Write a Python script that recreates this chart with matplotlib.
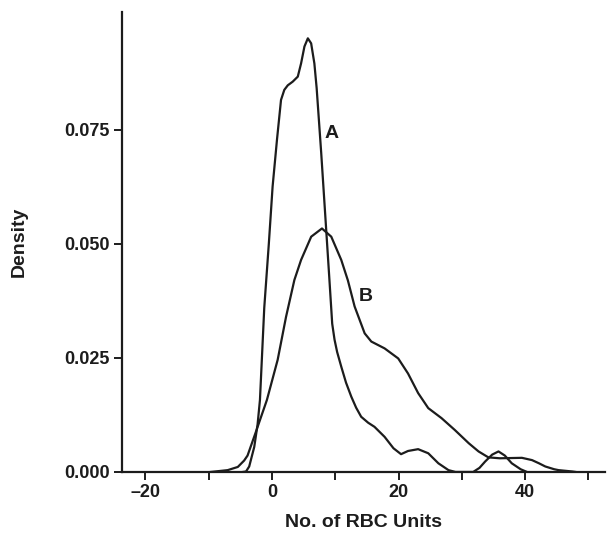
import matplotlib
matplotlib.use("Agg")
import matplotlib.pyplot as plt
from matplotlib.ticker import FixedLocator

plt.rcParams['font.family'] = ['Liberation Sans', 'DejaVu Sans']
plt.rcParams['font.weight'] = 'bold'

# Curve A (density estimate)
a_x = [-4.6, -4.1, -3.6, -2.8, -2.27, -1.9, -1.22, -0.5, 0.1, 0.8, 1.43, 1.95,
       2.5, 3.28, 4.08, 4.6, 5.13, 5.67, 6.19, 6.7, 7.06, 7.78, 8.57, 9.05,
       9.52, 9.89, 10.3, 10.95, 11.7, 12.54, 13.3, 14.1, 15.2, 16.2, 17.8,
       19.2, 20.4, 21.5, 23.1, 24.7, 26.3, 27.9, 29.0, 31.8, 32.8, 33.7, 34.8,
       35.8, 36.8, 37.9, 39.3, 40.3]
a_d = [0.0, 0.0001, 0.0012, 0.0055, 0.0105, 0.0158, 0.036, 0.050, 0.0626, 0.073,
       0.0816, 0.0838, 0.0848, 0.0856, 0.0867, 0.0896, 0.0933, 0.0951, 0.094,
       0.0896, 0.0842, 0.070, 0.0531, 0.0428, 0.0325, 0.029, 0.0263, 0.0231,
       0.0196, 0.0165, 0.0141, 0.0121, 0.0108, 0.0099, 0.0077, 0.0052, 0.0039,
       0.0046, 0.005, 0.0041, 0.0019, 0.0004, 0.0, 0.0, 0.0009, 0.0023, 0.0038,
       0.0045, 0.0036, 0.0019, 0.0006, 0.0]

# Curve B
b_x = [-9.7, -7.0, -5.4, -4.4, -3.86, -2.54, -0.8, 0.9, 2.22, 3.54, 4.6, 6.2,
       7.9, 9.37, 10.95, 12.0, 13.06, 14.65, 15.7, 17.8, 19.95, 21.5, 23.1,
       24.7, 26.8, 28.9, 31.1, 32.65, 34.2, 36.0, 39.5, 41.1, 42.2, 43.2, 44.6,
       45.3, 47.5, 48.0]
b_d = [0.0, 0.0004, 0.0011, 0.0025, 0.0036, 0.0088, 0.0158, 0.0246, 0.034,
       0.0421, 0.0465, 0.0516, 0.0534, 0.0516, 0.0465, 0.042, 0.0363, 0.0304,
       0.0286, 0.0271, 0.0249, 0.0216, 0.0173, 0.014, 0.0118, 0.0092, 0.0063,
       0.0045, 0.0032, 0.003, 0.0031, 0.0026, 0.0019, 0.0012, 0.0006, 0.0004,
       0.0001, 0.0]

x_ticks = [-20, -10, 0, 10, 20, 30, 40, 50]
x_tick_labels = ['\u201320', '', '0', '', '20', '', '40', '']
y_ticks = [0.0, 0.025, 0.05, 0.075]
y_tick_labels = ['0.000', '0.025', '0.050', '0.075']

fig = plt.figure(figsize=(6.08, 5.4), dpi=100)
ax = fig.add_axes([0.2007, 0.126, 0.794, 0.852])

col = '#1c1c1c'
ax.plot(a_x, a_d, color=col, lw=1.6, solid_joinstyle='round')
ax.plot(b_x, b_d, color=col, lw=1.6, solid_joinstyle='round')

ax.text(9.4, 0.0743, 'A', ha='center', va='center', fontsize=14, fontweight='bold', color=col)
ax.text(14.9, 0.0384, 'B', ha='center', va='center', fontsize=14, fontweight='bold', color=col)

ax.set_xlim(-23.7, 52.6)
ax.set_ylim(0, 0.1009)

ax.xaxis.set_major_locator(FixedLocator(x_ticks))
ax.set_xticklabels(x_tick_labels)
ax.set_yticks(y_ticks)
ax.set_yticklabels(y_tick_labels)

for s in ['top', 'right']:
    ax.spines[s].set_visible(False)
for s in ['left', 'bottom']:
    ax.spines[s].set_linewidth(1.6)
    ax.spines[s].set_color(col)

ax.tick_params(axis='both', direction='out', length=6, width=1.4, colors=col,
               labelsize=13, pad=3)
for lab in ax.get_xticklabels() + ax.get_yticklabels():
    lab.set_fontweight('bold')

ax.set_xlabel('No. of RBC Units', fontsize=14, fontweight='bold', color=col, labelpad=9)
ax.set_ylabel('Density', fontsize=14, fontweight='bold', color=col, labelpad=26)

fig.savefig('out.png', dpi=100)
